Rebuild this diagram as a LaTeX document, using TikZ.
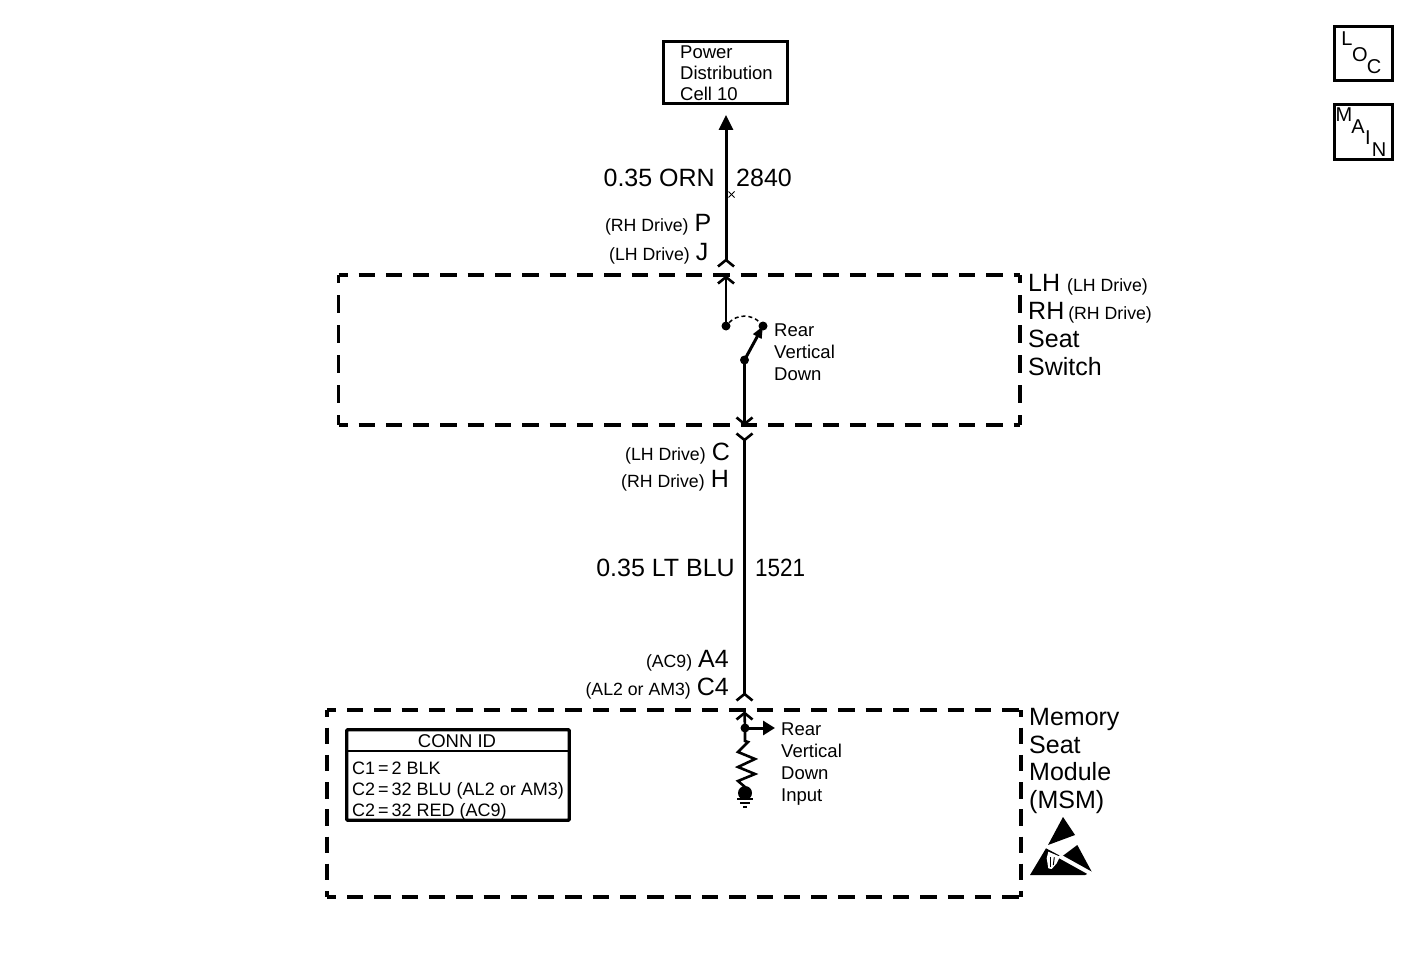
\documentclass[tikz,border=0pt]{standalone}
\usepackage{fontspec}
\setmainfont{Liberation Sans}
\usetikzlibrary{arrows.meta}
\newcommand{\bigtxt}{\fontsize{25}{27.7}\selectfont}
\newcommand{\smalltxt}{\fontsize{18.5}{21}\selectfont}
\newcommand{\sm}[1]{{\fontsize{17.7}{21}\selectfont #1}\hspace{6pt}}
\tikzset{
	wire/.style={line width=3pt},
	thinwire/.style={line width=2.6pt},
	hdash/.style={line width=3.4pt, dash pattern=on 16.3pt off 11pt, dash phase=7.3pt},
	vdash/.style={line width=3.4pt, dash pattern=on 18pt off 12pt, dash phase=10pt},
	vdashlow/.style={line width=3.4pt, dash pattern=on 16.5pt off 10.7pt, dash phase=9.5pt},
	solidbox/.style={line width=3.3pt},
	arrowed/.style={wire, -{Triangle[length=15pt,width=14pt]}},
	dot/.style={circle, fill=black, inner sep=0pt, minimum size=9pt},
	biglabel/.style={font=\bigtxt, inner sep=0pt, align=left},
	smalllabel/.style={font=\smalltxt, inner sep=0pt, align=left},
	letter/.style={font=\fontsize{20}{20}\selectfont, inner sep=0pt}
}
\newcommand{\chevup}[1]{\draw[thinwire] ([xshift=-8pt,yshift=-6.5pt]#1) -- (#1) -- ([xshift=8pt,yshift=-6.5pt]#1);}
\newcommand{\chevdown}[1]{\draw[thinwire] ([xshift=-8pt,yshift=6.5pt]#1) -- (#1) -- ([xshift=8pt,yshift=6.5pt]#1);}
\begin{document}
\begin{tikzpicture}[x=1pt,y=-1pt]
	\useasboundingbox (0,0) rectangle (1427,960);
	\draw[hdash] (338.5,275) -- (1020,275);
	\draw[hdash] (338.5,425) -- (1020,425);
	\draw[vdash] (338.5,275) -- (338.5,425);
	\draw[vdash] (1020,275) -- (1020,425);
	\draw[hdash] (327,710) -- (1021,710);
	\draw[hdash] (327,897) -- (1021,897);
	\draw[vdashlow] (327,710) -- (327,897);
	\draw[vdashlow] (1021,710) -- (1021,897);

	\node[solidbox, draw, minimum width=123.5pt, minimum height=61.5pt] (power) at (725.5,72.5) {};
	\node[smalllabel, anchor=west] (powertxt) at (680,73) {Power\\Distribution\\Cell 10};
	\node[solidbox, draw, minimum width=57.5pt, minimum height=53.5pt] (loc) at (1363.5,53.5) {};
	\node[letter] (locl) at (1347,39) {L};
	\node[letter] (loco) at (1360,55) {O};
	\node[letter] (locc) at (1374,67) {C};
	\node[solidbox, draw, minimum width=57.5pt, minimum height=54.5pt] (mainbox) at (1363.5,132) {};
	\node[letter] (mainm) at (1344,115) {M};
	\node[letter] (maina) at (1358,127) {A};
	\node[letter] (maini) at (1368,138) {I};
	\node[letter] (mainn) at (1379,150) {N};

	\coordinate (toptip) at (726,115);
	\coordinate (plugp) at (726,260);
	\coordinate (sockp) at (726,277);
	\coordinate (cont) at (726,326);
	\coordinate (contr) at (763,326);
	\coordinate (pivot) at (744.5,360);
	\coordinate (sockc) at (744.5,424);
	\coordinate (plugc) at (744.5,440);
	\coordinate (plugb) at (744.5,694);
	\coordinate (sockb) at (744.5,713);
	\coordinate (tap) at (745,728);
	\coordinate (inputtip) at (775,728);
	\coordinate (resend) at (745,790);

	\draw[arrowed] (plugp) -- (toptip);
	\chevup{plugp}
	\draw[thinwire] (sockp) -- (cont);
	\chevup{sockp}
	\node[dot] (contdot) at (cont) {};
	\node[dot] (contrdot) at (contr) {};
	\node[dot] (pivotdot) at (pivot) {};
	\draw[line width=1.5pt, dash pattern=on 4pt off 3pt] (contdot) .. controls (737,314) and (752,314) .. (contrdot);
	\draw[wire, -{Triangle[length=12pt,width=9pt]}] (pivot) -- (contr);
	\draw[wire] (pivot) -- (sockc);
	\chevdown{sockc}
	\draw[wire] (plugc) -- (plugb);
	\chevdown{plugc}
	\chevup{plugb}
	\draw[thinwire] (sockb) -- (tap);
	\chevup{sockb}
	\node[dot] (tapdot) at (tap) {};
	\draw[wire, -{Triangle[length=12pt,width=14pt]}] (tap) -- (inputtip);
	\draw[thinwire, line join=miter] (tap) -- (745,741) -- (748,742) -- (738,752) -- (755,759) -- (738,767) -- (755,774) -- (738,781) -- (745,787) -- (resend);
	\node[circle, fill=black, inner sep=0pt, minimum size=14pt] (gnddot) at (745,793) {};
	\draw[line width=1.6pt] (737,799) -- (753,799);
	\draw[line width=1.6pt] (740,803) -- (750,803);
	\draw[line width=1.6pt] (743,807) -- (747,807);

	\draw[line width=0.8pt] (728.5,191.5) -- (734.5,197.5);
	\draw[line width=0.8pt] (734.5,191.5) -- (728.5,197.5);

	\node[biglabel, anchor=east] (wirea) at (715,178) {0.35 ORN};
	\node[biglabel, anchor=west] (numa) at (736,178) {2840};
	\node[biglabel, anchor=east] (wireb) at (735,568) {0.35 LT BLU};
	\node[biglabel, xscale=0.9, anchor=west] (numb) at (755,568) {1521};

	\node[biglabel, anchor=base east] (pinp) at (711.5,232) {\sm{(RH Drive)}P};
	\node[biglabel, anchor=base east] (pinj) at (708.5,260) {\sm{(LH Drive)}J};
	\node[biglabel, anchor=base east] (pinc) at (730,460) {\sm{(LH Drive)}C};
	\node[biglabel, anchor=base east] (pinh) at (729,487) {\sm{(RH Drive)}H};
	\node[biglabel, anchor=base east] (pina) at (729,667) {\sm{(AC9)}A4};
	\node[biglabel, anchor=base east] (pinb) at (729,695) {\sm{(AL2 or AM3)}C4};

	\node[biglabel, anchor=west] (switchname) at (1028,325) {LH\hspace{7pt}{\fontsize{17.7}{21}\selectfont (LH Drive)}\\RH\hspace{4pt}{\fontsize{17.7}{21}\selectfont (RH Drive)}\\Seat\\Switch};
	\node[biglabel, anchor=west] (msmname) at (1029,761) {Memory\\Seat\\Module\\(MSM)};
	\node[smalllabel, anchor=west] (rvd) at (774,352) {Rear\\[1pt]Vertical\\[1pt]Down};
	\node[smalllabel, anchor=west, text depth=0pt] (rvdi) at (781,762.5) {Rear\\[1pt]Vertical\\[1pt]Down\\[1pt]Input};

	\node[solidbox, draw, rounded corners=1pt, minimum width=222.5pt, minimum height=90.5pt] (connbox) at (458,775) {};
	\draw[line width=2pt] (connbox.west |- 0,751) -- (connbox.east |- 0,751);
	\node[smalllabel] (connid) at (457,741) {CONN ID};
	\node[font=\fontsize{18}{21}\selectfont, inner sep=0pt, align=left, anchor=west] (conntxt) at (352,791) {C1\,=\,2 BLK\\C2\,=\,32 BLU (AL2 or AM3)\\C2\,=\,32 RED (AC9)};

	\fill (1063,817) -- (1075,835) -- (1048,845) -- cycle;
	\fill (1030,875) -- (1046,848.3) -- (1061.7,856.7) -- (1077.3,845) -- (1091.7,871.7) -- (1085,875) -- cycle;
	\draw[white, line width=4pt] (1059.3,856) -- (1091.7,874);
	\fill[white] (1048.3,851.7) -- (1060,856.7) -- (1056.7,863.3) -- (1051.7,869) -- (1048.3,868.3) -- (1046.7,858.3) -- cycle;
	\draw[line width=1pt] (1050.7,857.3) -- (1050.7,866.7);
	\draw[line width=1pt] (1054.3,857.3) -- (1053.3,865);
\end{tikzpicture}
\end{document}
